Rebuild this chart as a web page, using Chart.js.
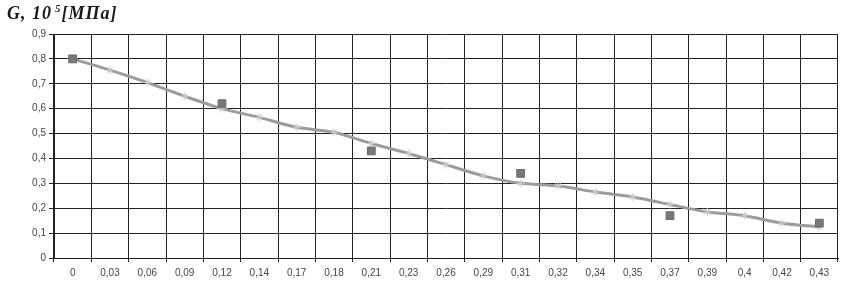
<!DOCTYPE html>
<html>
<head>
<meta charset="utf-8">
<script src="https://cdn.jsdelivr.net/npm/chart.js@4/dist/chart.umd.min.js"></script>
<style>
  html, body { margin: 0; padding: 0; background: #fff; }
  #wrap { position: relative; width: 845px; height: 285px; }
  #titulo {
    position: absolute; left: 7px; top: 2px;
    font-family: "Liberation Serif", "DejaVu Serif", serif;
    font-weight: bold; font-style: italic; font-size: 18px; color: #1a1a1a;
    letter-spacing: 1px;
  }
  #titulo sup { font-size: 11px; margin-left: 3px; }
</style>
</head>
<body>
<div id="wrap">
  <div id="titulo">G, 10<sup>5</sup>[МПа]</div>
  <canvas id="chart" width="845" height="285"></canvas>
</div>
<script>
/* categorias del eje x */
const categorias = ['0', '0,03', '0,06', '0,09', '0,12', '0,14', '0,17', '0,18', '0,21', '0,23',
  '0,26', '0,29', '0,31', '0,32', '0,34', '0,35', '0,37', '0,39', '0,4', '0,42', '0,43'];

/* curva calculada */
const valoresLinea = [0.80, 0.755, 0.705, 0.65, 0.60, 0.565, 0.525, 0.505, 0.46, 0.42,
  0.375, 0.33, 0.30, 0.29, 0.265, 0.245, 0.215, 0.185, 0.17, 0.14, 0.125];

/* puntos experimentales (cuadrados) */
const valoresPuntos = [0.80, null, null, null, 0.62, null, null, null, 0.43, null,
  null, null, 0.34, null, null, null, 0.17, null, null, null, 0.14];

const ctx = document.getElementById('chart').getContext('2d');

new Chart(ctx, {
  type: 'line',
  data: {
    labels: categorias,
    datasets: [{
      label: 'experimento',
      data: valoresPuntos,
      showLine: false,
      pointStyle: 'rect',
      pointRadius: 5.5,
      pointBackgroundColor: '#787878',
      pointBorderColor: '#6a6a6a',
      pointBorderWidth: 1
    }, {
      label: 'calculo',
      data: valoresLinea,
      borderColor: '#9c9c9c',
      borderWidth: 3,
      tension: 0.2,
      pointStyle: 'star',
      pointRadius: 4,
      pointBorderColor: '#cccccc',
      pointBorderWidth: 1
    }]
  },
  options: {
    responsive: false,
    animation: false,
    layout: { padding: { top: 34, right: 7, left: 0, bottom: 0 } },
    plugins: { legend: { display: false }, tooltip: { enabled: false } },
    scales: {
      x: {
        offset: true,
        grid: { offset: true, color: '#222', lineWidth: 1, tickLength: 4 },
        border: { color: '#222' },
        ticks: {
          color: '#444', font: { family: 'Arial, "Liberation Sans", sans-serif', size: 10 },
          maxRotation: 0, autoSkip: false, padding: 5
        },
        afterFit: (s) => { s.height = 27; }
      },
      y: {
        min: 0, max: 0.9,
        grid: { color: '#222', lineWidth: 1, tickLength: 5 },
        border: { color: '#222' },
        ticks: {
          stepSize: 0.1, color: '#444', padding: 3,
          font: { family: 'Arial, "Liberation Sans", sans-serif', size: 10 },
          callback: (v) => (Math.round(v * 10) / 10).toString().replace('.', ',')
        },
        afterFit: (s) => { s.width = 54; }
      }
    }
  }
});
</script>
</body>
</html>
